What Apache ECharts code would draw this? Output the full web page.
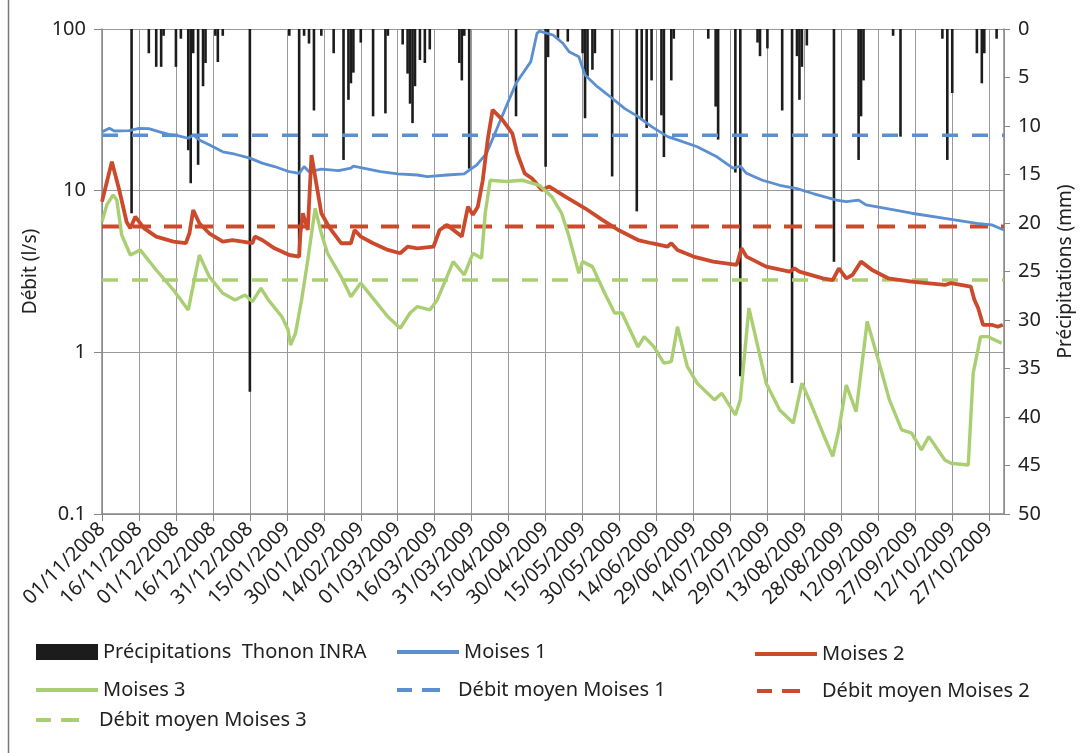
<!DOCTYPE html>
<html><head><meta charset="utf-8">
<script src="https://cdn.jsdelivr.net/npm/echarts@6/dist/echarts.min.js"></script>
<style>html,body{margin:0;padding:0;background:#fff}#c{width:1083px;height:753px}</style>
</head><body><div id="c"></div>
<script>
// x positions are day indices counted from 01/11/2008
const xTickLabels = ['01/11/2008','16/11/2008','01/12/2008','16/12/2008','31/12/2008','15/01/2009','30/01/2009','14/02/2009','01/03/2009','16/03/2009','31/03/2009','15/04/2009','30/04/2009','15/05/2009','30/05/2009','14/06/2009','29/06/2009','14/07/2009','29/07/2009','13/08/2009','28/08/2009','12/09/2009','27/09/2009','12/10/2009','27/10/2009'];
const dayMin = 0, dayMax = 366, dayStep = 15;

const moises1 = [[0,23.1],[3,24.3],[5,23.4],[11,23.5],[15,24.3],[19,24.2],[23,23.2],[27,22.3],[31,21.8],[35,21.1],[37,22.1],[39.5,20.6],[43.5,19.2],[49,17.4],[54,16.8],[60,15.9],[65,14.8],[70,14.1],[76,13.1],[80,12.8],[82,14.1],[84,13.1],[89,13.6],[96,13.3],[101,13.8],[102,14.2],[106,13.8],[113,13.1],[120,12.7],[128,12.5],[132,12.2],[140,12.5],[147,12.7],[149,13.4],[152,14.4],[156,17.0],[160,23.7],[164,33.1],[168,46.2],[174,62.8],[176.5,94],[177.5,97],[183,91.8],[187,81.6],[189.5,72.4],[193.5,67.4],[196,52],[201,44],[207,37.3],[212,32.3],[217.5,28.7],[223,24.9],[229.5,21.6],[233.5,20.6],[241.5,18.7],[249.5,16.2],[256,13.8],[259,14.2],[261.5,12.8],[268,11.6],[275,10.8],[282,10.3],[288.5,9.6],[298,8.75],[302,8.55],[307,8.75],[310,8.16],[318,7.78],[328.5,7.25],[342,6.75],[355,6.28],[361,6.14],[366,5.71]];

const moises2 = [[0,8.55],[4,15.1],[7,10.1],[10,6.4],[11.5,5.86],[13.5,6.9],[17,5.86],[22,5.2],[29,4.84],[34,4.73],[35.5,5.45],[37,7.6],[39.5,6.29],[43.5,5.45],[49,4.84],[53,4.95],[57,4.84],[61,4.73],[62,5.2],[65,4.95],[70,4.4],[76,4.0],[80,3.91],[80.5,5.45],[81.5,7.25],[83.5,5.71],[85,16.6],[89,7.25],[92,6.0],[97,4.73],[101,4.73],[102.5,5.71],[105,5.2],[110,4.73],[116,4.3],[121,4.1],[124,4.5],[128,4.4],[134.5,4.5],[137,5.71],[140,6.14],[146,5.2],[148.5,7.96],[150.5,7.1],[152.5,7.96],[154.5,11.6],[156.5,20.6],[158.5,31.6],[162.5,27.4],[166.5,22.6],[168.5,17.0],[171.5,12.8],[174.5,11.9],[178.5,10.1],[181.5,10.6],[188,9.18],[196,7.78],[203,6.59],[209.5,5.71],[217.5,4.95],[223,4.73],[229.5,4.5],[231,4.73],[233.5,4.3],[240,3.91],[248,3.64],[257.5,3.47],[259.5,4.4],[261.5,3.91],[269.5,3.39],[279,3.16],[281,3.31],[283,3.16],[292.5,2.87],[296.5,2.8],[299,3.31],[302,2.87],[304.5,3.01],[308,3.64],[312.5,3.23],[319,2.87],[328.5,2.74],[342,2.61],[344.5,2.68],[352.5,2.55],[354,2.11],[355.5,1.88],[357.5,1.48],[361,1.48],[363.5,1.44],[365.5,1.48]];

const moises3 = [[0,6.43],[2,8.2],[4.5,9.4],[6,8.76],[8,5.32],[11.5,4.0],[15.5,4.3],[22,3.23],[29,2.43],[35,1.83],[39.5,4.0],[43.5,2.94],[49,2.32],[54,2.11],[58,2.26],[61,2.06],[64.5,2.49],[67.5,2.11],[73,1.66],[75.5,1.38],[76.5,1.11],[78.5,1.31],[81,2.11],[83.5,3.73],[86.5,7.78],[89,5.45],[91.5,4.1],[97,2.94],[101,2.21],[105,2.68],[110.5,2.11],[116,1.66],[121,1.41],[125,1.75],[128,1.92],[133,1.83],[136,2.11],[140,2.94],[142.5,3.64],[147,3.01],[150.5,4.1],[154,3.82],[155.5,7.25],[157.5,11.6],[164,11.4],[170.5,11.6],[177.5,10.8],[182.5,9.18],[186.5,7.25],[189.5,5.2],[193.5,3.08],[195,3.64],[199,3.39],[204,2.32],[208,1.75],[211,1.75],[217.5,1.08],[220,1.25],[224,1.08],[228,0.857],[231,0.876],[233.5,1.44],[237.5,0.816],[241.5,0.644],[248.5,0.508],[251.5,0.558],[257,0.41],[259,0.508],[262.5,1.88],[265.5,1.19],[269.5,0.644],[275,0.44],[280.5,0.365],[284,0.644],[287,0.508],[292.5,0.316],[296.5,0.227],[299,0.331],[302,0.628],[306,0.43],[310.5,1.55],[315,0.898],[319.5,0.508],[324.5,0.331],[328.5,0.316],[332.5,0.249],[335.5,0.301],[342,0.216],[344.5,0.206],[351.5,0.201],[353.5,0.743],[356.5,1.25],[359.5,1.25],[365,1.14]];

const precipitations = [[12,19],[19,2.5],[22,3.9],[24,3.9],[25,0.7],[30,3.9],[32,1.0],[35,12.5],[36,15.9],[37,2.5],[39,14],[41,5.9],[42,3.5],[46,0.7],[47,3.4],[49,0.7],[60,37.4],[76,0.7],[80,23.5],[82,0.7],[84,1.5],[86,8.4],[89,0.7],[94,2.5],[98,13.5],[100,7.3],[101,5.6],[102,4.5],[105,1.4],[110,9],[115,8.7],[116,0.7],[122,1.6],[124,4.6],[125,7.7],[126,9.7],[127,5.9],[129,3.2],[131,3.5],[133,2.1],[145,3.5],[146,5.3],[147,0.7],[149,14.4],[168,9],[180,14.2],[181,2.9],[185,1],[189,1.3],[195,2.5],[196,9.2],[197,4.9],[199,4.2],[200,2.5],[207,15.2],[217,18.8],[219,9.4],[221,10.2],[223,5.3],[227,8.9],[228,13.2],[231,5.3],[232,1],[246,1],[249,8],[250,11.4],[257,14.8],[259,35.8],[266,1.4],[267,2.8],[270,2],[276,8.4],[280,36.5],[282,2.8],[283,7.3],[284,3.9],[286,1.7],[297,24],[307,13.5],[308,9],[309,5.3],[321,0.7],[324,11.1],[341,1],[343,13.5],[345,6.6],[355,2.5],[357,5.6],[358,2.5],[363,1]];

const meanMoises1 = 22.0, meanMoises2 = 6.0, meanMoises3 = 2.8;

const C1 = '#5b8fd0', C2 = '#cc4a2c', C3 = '#a9cf72';
const FONT = 'Noto Sans';
const txt = {color:'#222', fontFamily: FONT, fontSize: 20};

function meanLine(v){ return [[dayMin, v],[dayMax, v]]; }

const ICON_SOLID = 'path://M0 0H62V4H0Z';
const ICON_DASH = 'path://M0 0H15V4H0ZM25 0H43V4H25Z';

const chart = echarts.init(document.getElementById('c'), null, {renderer:'canvas'});
function lg(name, left, top, icon, w, h, padLeft){
  return {data:[name], left:left, top:top, itemWidth:w, itemHeight:h, itemGap:0, icon:icon,
    textStyle:{color:'#222', fontFamily:FONT, fontSize:20, padding:[0,0,0,padLeft]}, selectedMode:false};
}
chart.setOption({
  animation:false,
  backgroundColor:'#fff',
  grid:{left:102, right:70, top:29, bottom:239, containLabel:false},
  graphic:[{type:'line', shape:{x1:8.5,y1:0,x2:8.5,y2:753}, style:{stroke:'#777', lineWidth:1.5}}],
  legend:[
    lg('Précipitations  Thonon INRA', 31, 637, 'rect', 62, 16, 0),
    lg('Moises 1', 392, 637, ICON_SOLID, 62, 4, 0),
    lg('Moises 2', 750, 639, ICON_SOLID, 62, 4, 0),
    lg('Moises 3', 31, 675, ICON_SOLID, 62, 4, 0),
    lg('Débit moyen Moises 1', 392, 675, ICON_DASH, 43, 4, 13),
    lg('Débit moyen Moises 2', 752, 676, ICON_DASH, 43, 4, 17),
    lg('Débit moyen Moises 3', 31, 705, ICON_DASH, 43, 4, 15)
  ],
  xAxis:{type:'value', min:dayMin, max:dayMax, interval:dayStep,
    axisLine:{show:true, onZero:false, lineStyle:{color:'#888', width:1.5}},
    axisTick:{show:true, length:7, lineStyle:{color:'#888'}},
    splitLine:{show:true, lineStyle:{color:'#999', width:1}},
    axisLabel:Object.assign({rotate:45, margin:12, showMaxLabel:false,
      formatter:function(v){ return (v % dayStep === 0) ? (xTickLabels[v/dayStep] || '') : ''; }}, txt)
  },
  yAxis:[
    {type:'log', logBase:10, min:0.1, max:100, position:'left',
     name:'Débit (l/s)', nameLocation:'middle', nameGap:62, nameRotate:90,
     nameTextStyle:{color:'#222', fontFamily:FONT, fontSize:19},
     axisLine:{show:true, lineStyle:{color:'#888', width:1.5}},
     axisTick:{show:true, length:8, lineStyle:{color:'#888'}},
     splitLine:{show:true, lineStyle:{color:'#999', width:1}},
     minorTick:{show:false}, minorSplitLine:{show:false},
     axisLabel:Object.assign({margin:16, formatter:function(v){return String(v);}}, txt)
    },
    {type:'value', min:0, max:50, interval:5, inverse:true, position:'right',
     name:'Précipitations (mm)', nameLocation:'middle', nameGap:52, nameRotate:90,
     nameTextStyle:{color:'#222', fontFamily:FONT, fontSize:19},
     axisLine:{show:true, lineStyle:{color:'#888', width:1.5}},
     axisTick:{show:true, length:6, lineStyle:{color:'#888'}},
     splitLine:{show:false},
     axisLabel:Object.assign({margin:14}, txt)
    }
  ],
  series:[
    {name:'Précipitations  Thonon INRA', type:'bar', yAxisIndex:1, data:precipitations,
     barWidth:2.6, itemStyle:{color:'#1c1c1c'}, z:1},
    {name:'Moises 1', type:'line', data:moises1, symbol:'none', lineStyle:{color:C1, width:2.8}, itemStyle:{color:C1}, z:3},
    {name:'Moises 2', type:'line', data:moises2, symbol:'none', lineStyle:{color:C2, width:3.8}, itemStyle:{color:C2}, z:3},
    {name:'Moises 3', type:'line', data:moises3, symbol:'none', lineStyle:{color:C3, width:3.4}, itemStyle:{color:C3}, z:3},
    {name:'Débit moyen Moises 1', type:'line', data:meanLine(meanMoises1), symbol:'none',
     lineStyle:{color:C1, width:3.5, type:[16,14]}, itemStyle:{color:C1}, z:2},
    {name:'Débit moyen Moises 2', type:'line', data:meanLine(meanMoises2), symbol:'none',
     lineStyle:{color:C2, width:4, type:[18,13]}, itemStyle:{color:C2}, z:2},
    {name:'Débit moyen Moises 3', type:'line', data:meanLine(meanMoises3), symbol:'none',
     lineStyle:{color:C3, width:3.5, type:[16,14]}, itemStyle:{color:C3}, z:2}
  ]
});
</script></body></html>
